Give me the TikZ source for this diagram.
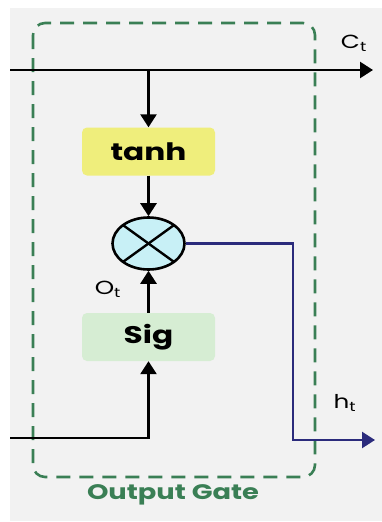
\documentclass[tikz,border=0pt]{standalone}
\usepackage{fontspec}
\setmainfont{Poppins}
\usetikzlibrary{arrows.meta,shapes.geometric,calc}
\definecolor{bgray}{HTML}{F2F2F2}
\definecolor{gatecol}{HTML}{3A7F55}
\definecolor{tanhcol}{HTML}{EFEE7C}
\definecolor{sigcol}{HTML}{D6EDD3}
\definecolor{mulcol}{HTML}{C8F0F6}
\definecolor{hcol}{HTML}{2B2B7C}
\newcommand{\widetxt}[1]{\scalebox{1.3}[1]{#1}}
\tikzset{
  flow/.style={line width=2.6pt, draw=black, -{Triangle[length=13pt,width=16pt]}},
  hflow/.style={line width=2.4pt, draw=hcol, -{Triangle[length=13pt,width=16pt]}},
  opbox/.style={rounded corners=5pt, minimum width=133pt, minimum height=48pt, inner sep=0pt, font=\bfseries\fontsize{24}{24}\selectfont},
  lbl/.style={font=\fontsize{19}{19}\selectfont, inner sep=0pt},
}
\begin{document}
\begin{tikzpicture}[x=1pt,y=-1pt]
\useasboundingbox (0,0) rectangle (382,522);
\fill[white] (0,0) rectangle (382,522);
\fill[bgray] (10,8) rectangle (382,521);
% gate box
\draw[gatecol, line width=2.6pt, dash pattern=on 14pt off 9pt, rounded corners=12pt] (33,23) rectangle (315,477);
\node[text=gatecol, font=\bfseries\fontsize{21}{21}\selectfont] (gl) at (173,495) {\widetxt{Output Gate}};
% nodes
\node[opbox, fill=tanhcol] (tanh) at (148.5,151.5) {\widetxt{tanh}};
\node[opbox, fill=sigcol] (sig) at (148.5,337) {\widetxt{Sig}};
\node[ellipse, draw=black, line width=2.6pt, fill=mulcol, minimum width=72pt, minimum height=52pt, inner sep=0pt] (mul) at (148.5,243.5) {};
\draw[line width=2.4pt] ($(mul.center)+(-25.5,-18.4)$) -- ($(mul.center)+(25.5,18.4)$);
\draw[line width=2.4pt] ($(mul.center)+(25.5,-18.4)$) -- ($(mul.center)+(-25.5,18.4)$);
% coordinates
\coordinate (cin) at (10,70);
\coordinate (cout) at (373,70);
\coordinate (ctap) at (148.5,70);
\coordinate (xin) at (10,438);
\coordinate (xcor) at (148.5,438);
\coordinate (hcor1) at (293,243.5);
\coordinate (hcor2) at (293,440);
\coordinate (hout) at (375,440);
% connectors
\draw[flow] (cin) -- (cout);
\draw[flow] (ctap) -- (tanh.north);
\draw[flow] (tanh.south) -- (mul.north);
\draw[flow] (sig.north) -- (mul.south);
\draw[flow] (xin) -- (xcor) -- (sig.south);
\draw[hflow] (mul.east) -- (hcor1) -- (hcor2) -- (hout);
% labels
\node[lbl] (ct) at (354,43) {\widetxt{C\textsubscript{t}}};
\node[lbl] (ot) at (108,289) {\widetxt{O\textsubscript{t}}};
\node[lbl] (ht) at (345,403) {\widetxt{h\textsubscript{t}}};
\end{tikzpicture}
\end{document}
